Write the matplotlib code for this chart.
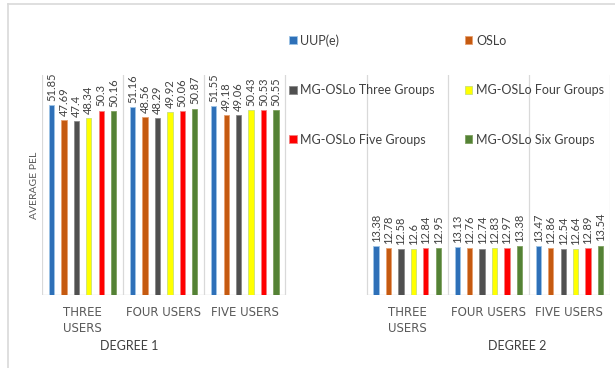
import matplotlib
matplotlib.use("Agg")
import matplotlib.pyplot as plt
from matplotlib.lines import Line2D
import numpy as np

plt.rcParams['font.family'] = ['Lato', 'DejaVu Sans']

# Category slots: three per degree, with an empty slot between the degrees
categories = ["THREE\nUSERS", "FOUR USERS", "FIVE USERS", "",
              "THREE\nUSERS", "FOUR USERS", "FIVE USERS"]
degree_labels = ["DEGREE 1", "DEGREE 2"]

series_names = ["UUP(e)", "OSLo", "MG-OSLo Three Groups",
                "MG-OSLo Four Groups", "MG-OSLo Five Groups", "MG-OSLo Six Groups"]

uup_e      = [51.85, 51.16, 51.55, None, 13.38, 13.13, 13.47]
oslo       = [47.69, 48.56, 49.18, None, 12.78, 12.76, 12.86]
mg_three   = [47.4,  48.29, 49.06, None, 12.58, 12.74, 12.54]
mg_four    = [48.34, 49.92, 50.43, None, 12.6,  12.83, 12.64]
mg_five    = [50.3,  50.06, 50.53, None, 12.84, 12.97, 12.89]
mg_six     = [50.16, 50.87, 50.55, None, 12.95, 13.38, 13.54]

series = [uup_e, oslo, mg_three, mg_four, mg_five, mg_six]
face_colors = ["#2E70B8", "#C55A11", "#505050", "#FFFF00", "#FF0000", "#548235"]
edge_colors = ["#9DC3E6", "#E8A070", "#8A8A8A", "#C9E07A", "#F08080", "#7FA060"]

W, H = 615, 368
fig = plt.figure(figsize=(W / 100, H / 100), dpi=100)

# chart-area frame (left and top edges)
fig.add_artist(Line2D([8 / W, 8 / W], [0, 1 - 4 / H], color="#D9D9D9", lw=1.2))
fig.add_artist(Line2D([8 / W, 1], [1 - 4 / H, 1 - 4 / H], color="#D9D9D9", lw=1.2))

left, right = 42 / W, 610 / W
bottom, top = 1 - 295.3 / H, 1 - 75 / H
ax = fig.add_axes([left, bottom, right - left, top - bottom])

n_slots = len(categories)
ax.set_xlim(-0.5, n_slots - 0.5)
ax.set_ylim(0, 60)

# slot separators
for b in np.arange(-0.5, n_slots, 1.0):
    ax.axvline(b, color="#D9D9D9", lw=0.9, zorder=0)

# baseline under the filled slots
ax.hlines(0, -0.5, 2.5, color="#D9D9D9", lw=1.0, zorder=1)
ax.hlines(0, 3.5, 6.5, color="#D9D9D9", lw=1.0, zorder=1)

pitch = 0.153
bar_w = 0.065
x = np.arange(n_slots)
for i, (name, vals) in enumerate(zip(series_names, series)):
    offs = (i - 2.5) * pitch
    xs = [xx + offs for xx, v in zip(x, vals) if v is not None]
    vs = [v for v in vals if v is not None]
    bars = ax.bar(xs, vs, width=bar_w, color=face_colors[i],
                  edgecolor=edge_colors[i], linewidth=0.6, label=name, zorder=2)
    for rect, v in zip(bars, vs):
        ax.annotate(f"{v:g}", (rect.get_x() + rect.get_width() / 2, rect.get_height()),
                    xytext=(0, 3), textcoords="offset points", rotation=90,
                    ha="center", va="bottom", fontsize=8, color="#404040")

for s in ax.spines.values():
    s.set_visible(False)
ax.set_yticks([])
ax.set_xticks(x)
ax.set_xticklabels(categories, fontsize=8.5, color="#595959",
                   family=["DejaVu Sans"], linespacing=1.25)
ax.tick_params(axis="x", length=0, pad=8)

ax.set_ylabel("AVERAGE PEL", fontsize=7.5, color="#595959")
ax.yaxis.set_label_coords(-0.005, 0.5)

# outer category labels
fig.text(129 / W, 1 - 346 / H, degree_labels[0], ha="center", va="center",
         fontsize=9, color="#404040")
fig.text(517 / W, 1 - 346 / H, degree_labels[1], ha="center", va="center",
         fontsize=9, color="#404040")

handles, labels = ax.get_legend_handles_labels()
order = [0, 2, 4, 1, 3, 5]
leg = fig.legend([handles[k] for k in order], [labels[k] for k in order],
                 ncol=2, loc="upper left", bbox_to_anchor=(289 / W, 1 - 34 / H),
                 frameon=False, fontsize=9, handlelength=0.6, handleheight=0.6,
                 handletextpad=0.3, labelspacing=3.0, columnspacing=2.4,
                 borderpad=0, borderaxespad=0)
for t in leg.get_texts():
    t.set_color("#404040")

fig.savefig("out.png", dpi=100)
